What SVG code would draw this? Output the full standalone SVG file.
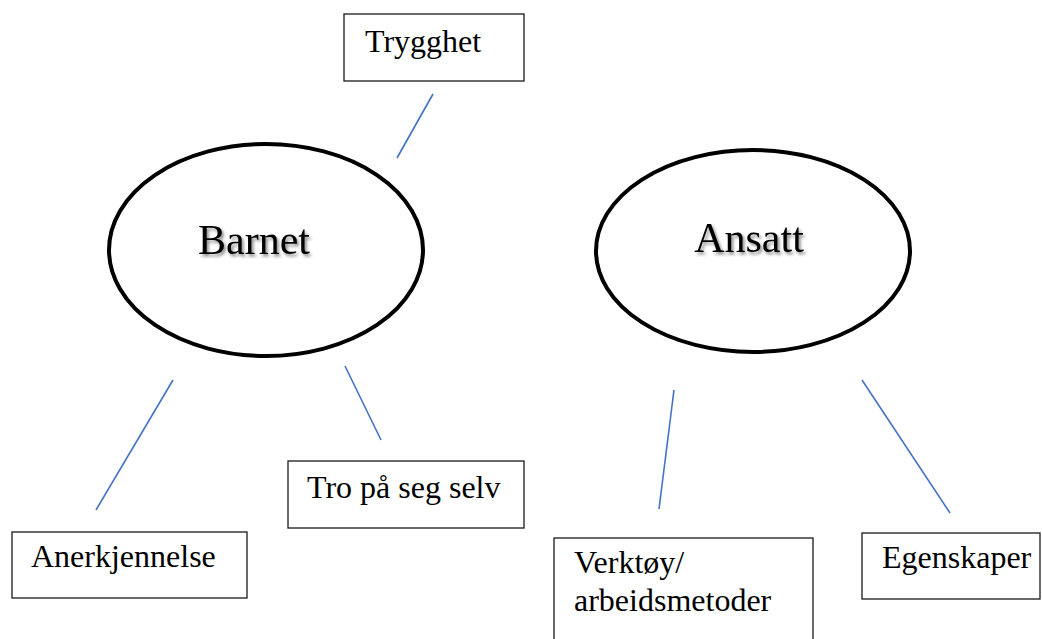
<svg xmlns="http://www.w3.org/2000/svg" width="1042" height="639" viewBox="0 0 1042 639">
<defs>
<filter id="shadow" x="-10%" y="-20%" width="130%" height="160%">
<feDropShadow dx="2" dy="2.5" stdDeviation="1.5" flood-color="#000" flood-opacity="0.45"/>
</filter>
</defs>
<style>
.box{fill:#fff;stroke:#1a1a1a;stroke-width:1.3}
.ell{fill:#fff;stroke:#000;stroke-width:4}
.lbl{font-family:"Liberation Serif","Times New Roman",serif;font-size:32px;fill:#000}
.big{font-family:"Liberation Serif","Times New Roman",serif;font-size:42px;fill:#000;text-anchor:middle;filter:url(#shadow)}
.conn{stroke:#4472C4;stroke-width:1.6;fill:none}
</style>
<rect width="1042" height="639" fill="#fff"/>
<g id="connectors">
<line class="conn" x1="433" y1="94" x2="397" y2="158"/>
<line class="conn" x1="173" y1="380" x2="96" y2="510"/>
<line class="conn" x1="345" y1="366" x2="381" y2="440"/>
<line class="conn" x1="674" y1="390" x2="659" y2="509"/>
<line class="conn" x1="862" y1="380" x2="950" y2="513"/>
</g>
<g id="trygghet">
<rect class="box" x="344" y="14" width="180" height="67"/>
<text class="lbl" x="365" y="52">Trygghet</text>
</g>
<g id="barnet">
<ellipse class="ell" cx="266" cy="250" rx="157" ry="106"/>
<text class="big" x="254" y="254">Barnet</text>
</g>
<g id="ansatt">
<ellipse class="ell" cx="753" cy="251" rx="157" ry="101"/>
<text class="big" x="749" y="252">Ansatt</text>
</g>
<g id="anerkjennelse">
<rect class="box" x="12" y="532" width="235" height="66"/>
<text class="lbl" x="31" y="567">Anerkjennelse</text>
</g>
<g id="tro">
<rect class="box" x="288" y="461" width="236" height="67"/>
<text class="lbl" x="307" y="498">Tro på seg selv</text>
</g>
<g id="verktoy">
<rect class="box" x="554" y="538" width="259" height="120"/>
<text class="lbl" x="574" y="573">Verktøy/</text>
<text class="lbl" x="574" y="611">arbeidsmetoder</text>
</g>
<g id="egenskaper">
<rect class="box" x="862" y="533" width="178" height="66"/>
<text class="lbl" x="882" y="568">Egenskaper</text>
</g>
</svg>
